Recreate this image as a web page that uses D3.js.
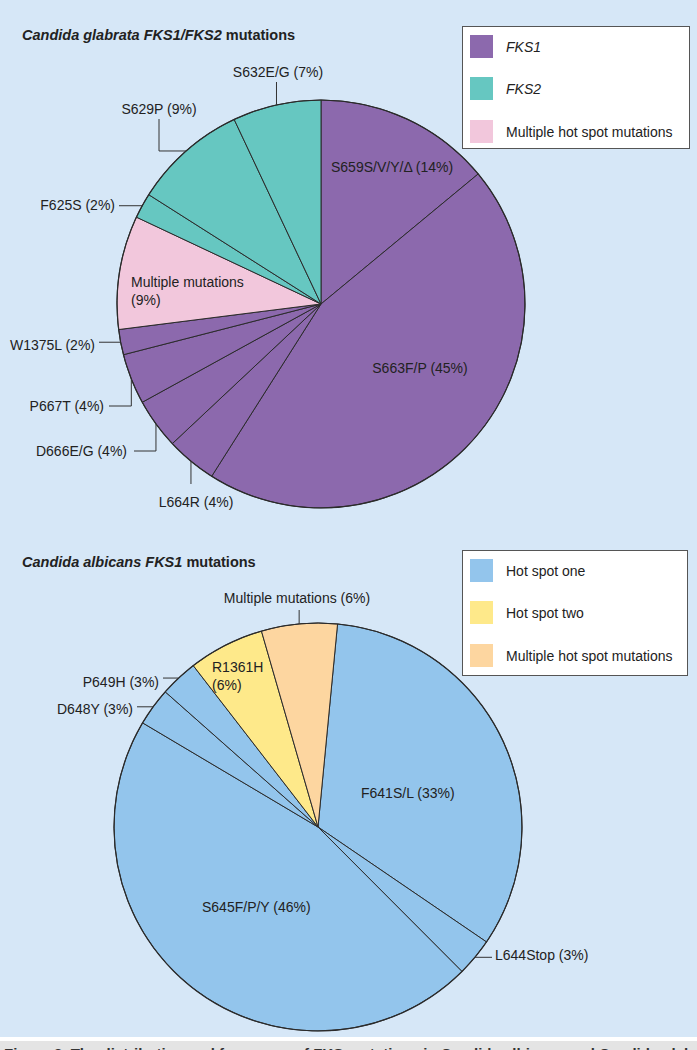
<!DOCTYPE html>
<html>
<head>
<meta charset="utf-8">
<script src="https://cdn.jsdelivr.net/npm/d3@7/dist/d3.min.js"></script>
<style>
  html, body { margin: 0; padding: 0; background: #ffffff; }
  svg { display: block; }
  text { font-family: "Liberation Sans", Arial, Helvetica, sans-serif; fill: #222; }
</style>
</head>
<body>
<script>
// ---------- DATA ----------
const glabrataTitle = ["Candida glabrata FKS1/FKS2", " mutations"];
const glabrataLabels = ["S659S/V/Y/Δ (14%)", "S663F/P (45%)", "L664R (4%)", "D666E/G (4%)", "P667T (4%)",
                        "W1375L (2%)", "Multiple mutations (9%)", "F625S (2%)", "S629P (9%)", "S632E/G (7%)"];
const glabrataValues = [14, 45, 4, 4, 4, 2, 9, 2, 9, 7];
const glabrataGroups = ["FKS1", "FKS1", "FKS1", "FKS1", "FKS1", "FKS1", "Multiple hot spot mutations", "FKS2", "FKS2", "FKS2"];
const glabrataLegend = ["FKS1", "FKS2", "Multiple hot spot mutations"];

const albicansTitle = ["Candida albicans FKS1", " mutations"];
const albicansLabels = ["F641S/L (33%)", "L644Stop (3%)", "S645F/P/Y (46%)", "D648Y (3%)", "P649H (3%)",
                        "R1361H (6%)", "Multiple mutations (6%)"];
const albicansValues = [33, 3, 46, 3, 3, 6, 6];
const albicansGroups = ["Hot spot one", "Hot spot one", "Hot spot one", "Hot spot one", "Hot spot one",
                        "Hot spot two", "Multiple hot spot mutations"];
const albicansLegend = ["Hot spot one", "Hot spot two", "Multiple hot spot mutations"];

const captionText = "Figure 3. The distribution and frequency of FKS mutations in Candida albicans and Candida glabrata.";

// ---------- LAYOUT / STYLE ----------
const W = 697, H = 1050;
const BG = "#d6e7f7";
const colorsTop = d3.scaleOrdinal().domain(glabrataLegend).range(["#8c69ad", "#66c7c1", "#f2c7dc"]);
const colorsBot = d3.scaleOrdinal().domain(albicansLegend).range(["#93c5ec", "#fee98a", "#fdd6a0"]);

const svg = d3.select("body").append("svg").attr("width", W).attr("height", H);
svg.append("rect").attr("x", 0).attr("y", 0).attr("width", W).attr("height", 1037).attr("fill", BG);
svg.append("rect").attr("x", 0).attr("y", 1041).attr("width", W).attr("height", 9).attr("fill", "#e4e4e4");
svg.append("text").attr("x", 4).attr("y", 1059).attr("font-size", 15).attr("font-weight", "bold")
  .style("fill", "#333").text(captionText);

function title(y, parts) {
  const t = svg.append("text").attr("x", 22).attr("y", y).attr("font-size", 14.5).attr("font-weight", "bold");
  t.append("tspan").attr("font-style", "italic").text(parts[0]);
  t.append("tspan").text(parts[1]);
}
title(40, glabrataTitle);
title(567, albicansTitle);

function legend(x0, y0, w, h, items, color, ys, italicFirst) {
  const g = svg.append("g");
  g.append("rect").attr("x", x0 + 0.5).attr("y", y0 + 0.5).attr("width", w).attr("height", h)
    .attr("fill", "#ffffff").attr("stroke", "#555").attr("stroke-width", 1);
  items.forEach((d, i) => {
    g.append("rect").attr("x", x0 + 8).attr("y", ys[i]).attr("width", 23).attr("height", 23).attr("fill", color(d));
    g.append("text").attr("x", x0 + 44).attr("y", ys[i] + 16.5).attr("font-size", 14)
      .attr("font-style", (italicFirst && i < 2) ? "italic" : "normal").text(d);
  });
}
legend(462, 26, 227, 122, glabrataLegend, colorsTop, [35, 77, 120], true);
legend(462, 550, 225, 125, albicansLegend, colorsBot, [559, 601, 644], false);

function drawPie(cx, cy, r, values, groups, color, offsetDeg) {
  const off = offsetDeg * Math.PI / 180;
  const pie = d3.pie().sort(null).startAngle(off).endAngle(off + 2 * Math.PI);
  const arcs = pie(values);
  const arc = d3.arc().innerRadius(0).outerRadius(r);
  const g = svg.append("g").attr("transform", `translate(${cx},${cy})`);
  g.selectAll("path").data(arcs).enter().append("path")
    .attr("d", arc).attr("fill", (d, i) => color(groups[i]))
    .attr("stroke", "#2b2b2b").attr("stroke-width", 1).attr("stroke-linejoin", "round");
  g.append("circle").attr("r", r).attr("fill", "none").attr("stroke", "#2b2b2b").attr("stroke-width", 1.2);
  return arcs.map(a => {
    const m = (a.startAngle + a.endAngle) / 2;
    return [cx + r * Math.sin(m), cy - r * Math.cos(m)];
  });
}

const rimTop = drawPie(321, 304, 204, glabrataValues, glabrataGroups, colorsTop, 0);
const rimBot = drawPie(318, 827, 204, albicansValues, albicansGroups, colorsBot, 5.5);

function labels(rims, texts, specs) {
  specs.forEach((s, i) => {
    if (!s) return;
    const lines = s.lines || [texts[i]];
    const t = svg.append("text").attr("x", s.x).attr("y", s.y).attr("font-size", 14)
      .attr("text-anchor", s.anchor || "start");
    lines.forEach((ln, k) => t.append("tspan").attr("x", s.x).attr("dy", k === 0 ? 0 : 18).text(ln));
    if (s.route) {
      let [px, py] = rims[i];
      const pts = [[px, py]];
      s.route.forEach(st => {
        if (st[0] === "h") px = st[1]; else py = st[1];
        pts.push([px, py]);
      });
      svg.append("path").attr("d", d3.line()(pts)).attr("fill", "none")
        .attr("stroke", "#333").attr("stroke-width", 1);
    }
  });
}

labels(rimTop, glabrataLabels, [
  {x: 331, y: 172},
  {x: 420, y: 373, anchor: "middle"},
  {x: 196, y: 507, anchor: "middle", route: [["v", 484]]},
  {x: 127, y: 456, anchor: "end", route: [["v", 451], ["h", 134]]},
  {x: 104, y: 411, anchor: "end", route: [["v", 406], ["h", 109]]},
  {x: 95, y: 350, anchor: "end", route: [["h", 99]]},
  {x: 131, y: 287, lines: ["Multiple mutations", "(9%)"]},
  {x: 115, y: 210, anchor: "end", route: [["h", 119]]},
  {x: 159, y: 114, anchor: "middle", route: [["h", 159], ["v", 119]]},
  {x: 278, y: 77, anchor: "middle", route: [["v", 82]]}
]);

labels(rimBot, albicansLabels, [
  {x: 361, y: 798},
  {x: 495, y: 960, route: [["h", 492]]},
  {x: 202, y: 912},
  {x: 133, y: 714, anchor: "end", route: [["h", 137]]},
  {x: 159, y: 687, anchor: "end", route: [["h", 163]]},
  {x: 212, y: 672, lines: ["R1361H", "(6%)"]},
  {x: 297, y: 603, anchor: "middle", route: [["v", 610]]}
]);
</script>
</body>
</html>
